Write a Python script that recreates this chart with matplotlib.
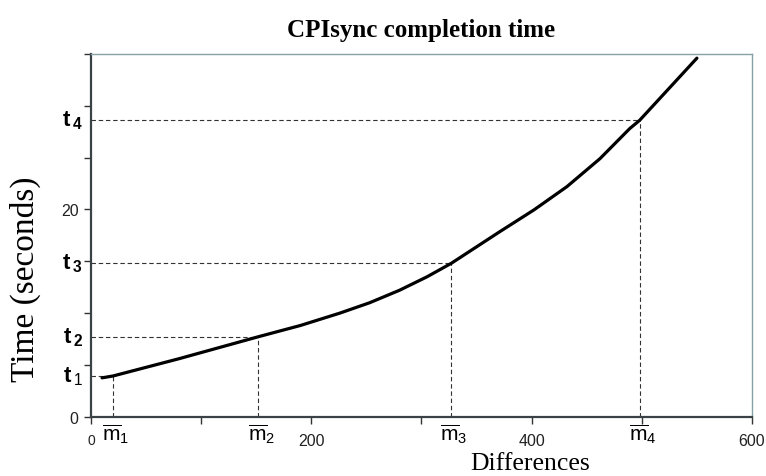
import matplotlib.pyplot as plt

plt.rcParams['mathtext.fontset'] = 'custom'
plt.rcParams['mathtext.rm'] = 'Liberation Sans'
plt.rcParams['mathtext.bf'] = 'Liberation Sans:bold'

# curve
differences = [10, 20, 80, 152, 190, 226, 253, 280, 305, 327, 371, 402, 432, 462, 489, 498, 550]
seconds = [3.75, 3.93, 5.6, 7.72, 8.8, 10.0, 11.0, 12.2, 13.5, 14.8, 17.85, 19.95, 22.2, 24.9,
           27.8, 28.6, 34.6]

# marked points
m_values = [20, 152, 327, 498]
t_values = [3.93, 7.72, 14.8, 28.6]
t_labels = [r'$\mathbf{t}_{\,1}$', r'$\mathbf{t}_{\,\mathbf{2}}$',
            r'$\mathbf{t}_{\,\mathbf{3}}$', r'$\mathbf{t}_{\,\mathbf{4}}$']
m_labels = [r'$\overline{\mathrm{m}}_1$', r'$\overline{\mathrm{m}}_2$',
            r'$\overline{\mathrm{m}}_3$', r'$\overline{\mathrm{m}}_4$']

x_ticks = [0, 100, 200, 300, 400, 500, 600]
x_ticklabels = ['0', '', '200', '', '400', '', '600']
y_ticks = [0, 5, 10, 15, 20, 25, 30, 35]
y_ticklabels = ['0', '', '', '', '20', '', '', '']

fig = plt.figure(figsize=(7.66, 4.77), dpi=100)
ax = fig.add_axes([0.1188, 0.1243, 0.8629, 0.7604])

ax.plot(differences, seconds, color='black', linewidth=2.3, solid_capstyle='round',
        solid_joinstyle='round', zorder=3)

dash_color = '#333333'
for m, t in zip(m_values, t_values):
    ax.plot([0, m], [t, t], color=dash_color, linewidth=0.8, linestyle=(0, (4, 2.5)), zorder=2)
    ax.plot([m, m], [0, t], color=dash_color, linewidth=0.8, linestyle=(0, (4, 2.5)), zorder=2)

ax.set_xlim(0, 600)
ax.set_ylim(0, 35)
ax.set_xticks(x_ticks)
ax.set_xticklabels(x_ticklabels, fontfamily='Liberation Sans', fontsize=11.5, color='#222222')
ax.get_xticklabels()[0].set_fontsize(10)
ax.set_yticks(y_ticks)
ax.set_yticklabels(y_ticklabels, fontfamily='Liberation Sans', fontsize=11.5, color='#222222')
ax.tick_params(axis='both', direction='out', length=5, width=1, color='#333333')
ax.tick_params(axis='x', pad=7)
ax.tick_params(axis='y', pad=4)

for side in ['left', 'bottom']:
    ax.spines[side].set_color('#3a4246')
    ax.spines[side].set_linewidth(1.6)
for side in ['top', 'right']:
    ax.spines[side].set_color('#86a2a8')
    ax.spines[side].set_linewidth(1.0)

# t labels on the y axis
for t, lab in zip(t_values, t_labels):
    ax.annotate(lab, xy=(0, t), xytext=(-6, -4), textcoords='offset points',
                fontsize=16, ha='right', va='baseline', color='black',
                annotation_clip=False)

# m labels under the x axis
for m, lab in zip(m_values, m_labels):
    ax.annotate(lab, xy=(m, 0), xytext=(2, -3.5), textcoords='offset points',
                fontsize=15, ha='center', va='top', color='black',
                annotation_clip=False)

ax.set_title('CPIsync completion time', fontfamily='Liberation Serif', fontweight='bold',
             fontsize=18, pad=13)
ax.set_xlabel('Differences', fontfamily='Liberation Serif', fontsize=18.5)
ax.xaxis.set_label_coords(0.664, -0.098)
ax.set_ylabel('Time (seconds)', fontfamily='Liberation Serif', fontsize=24)
ax.yaxis.set_label_coords(-0.075, 0.382)

fig.savefig('out.png', dpi=100)
